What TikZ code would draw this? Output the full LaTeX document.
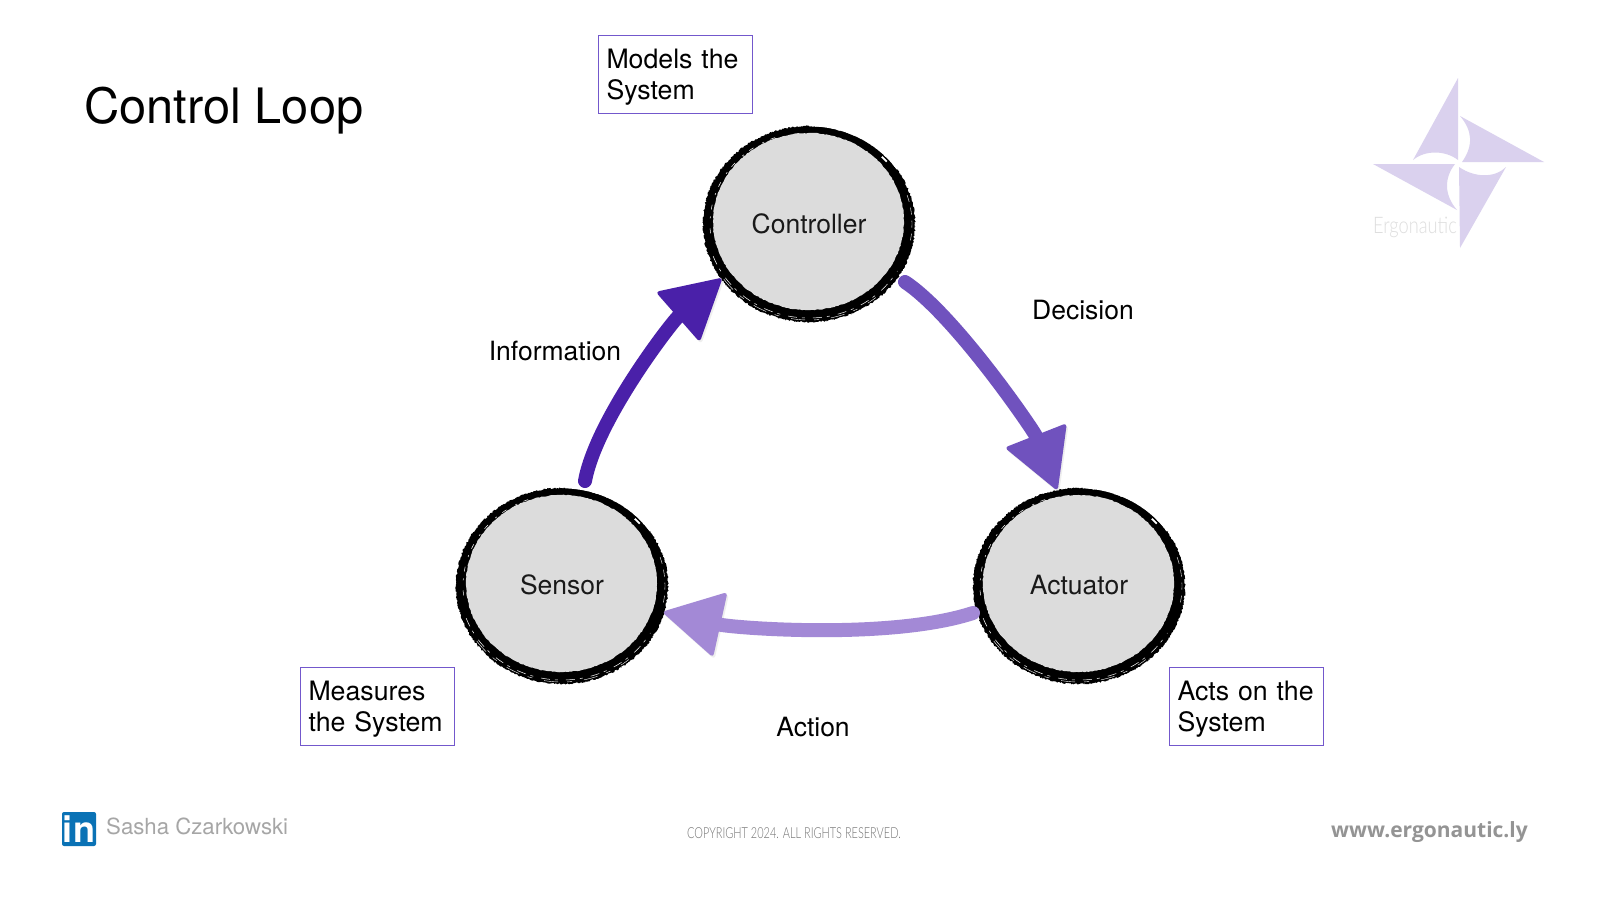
\documentclass[tikz,border=0pt]{standalone}
\usepackage{fontspec}
\setmainfont{TeX Gyre Heros}
\newfontfamily\thinfont[FakeStretch=0.72]{Lato Light}
\newfontfamily\logofont[FakeStretch=0.8]{Lato Light}
\newfontfamily\urlfont{Open Sans}
\usetikzlibrary{arrows.meta,decorations.pathmorphing,shapes.geometric}
\definecolor{infoC}{HTML}{4A20A9}
\definecolor{decC}{HTML}{7052BE}
\definecolor{actC}{HTML}{A389D6}
\definecolor{boxC}{HTML}{7358CC}
\definecolor{ballC}{HTML}{DCDCDC}
\definecolor{logoC}{HTML}{DAD1EE}
\definecolor{footC}{HTML}{A6A6A6}
\definecolor{linkC}{HTML}{0A72B5}
\newcommand{\firstline}{\rule{0pt}{25pt}}
\tikzset{
  x=1pt,y=-1pt,
  ballnode/.style={ellipse,minimum width=212pt,minimum height=196pt,inner sep=0pt,outer sep=0pt,font=\fontsize{26.5}{31}\selectfont,text=black!90},
  notebox/.style={draw=boxC,line width=1pt,anchor=west,inner sep=0pt,font=\fontsize{26.7}{31}\selectfont,align=left,text=black,text width=138pt,minimum height=78pt,inner xsep=8pt},
  flowlabel/.style={font=\fontsize{26.5}{31}\selectfont,text=black,inner sep=0pt},
  flow/.style={line width=14pt,line cap=round,color=#1,
    preaction={draw=black!35,opacity=.18,transform canvas={xshift=1.5pt,yshift=-2pt}},
    -{Triangle[length=60pt,width=66pt,line width=4pt,round]}},
  logoblade/.style={fill=logoC,draw=none},
}
\newcommand{\brushring}[2]{%
  \begin{scope}[shift={(#1,#2)},y=1pt]
    \fill[black,decorate,decoration={random steps,segment length=1.2pt,amplitude=.8pt}]
      (0,0) ellipse [x radius=106,y radius=98];
    % thin, broken upper-right part of the stroke
    \draw[white,line width=3.6pt] (34:107.5 and 99.5) arc [start angle=34,end angle=88,x radius=107.5,y radius=99.5];
    \draw[white,line width=1.8pt] (41:103 and 95) arc [start angle=41,end angle=45,x radius=103,y radius=95];
    % dry-brush streaks
    \draw[white,line width=.5pt,dash pattern=on 9pt off 5pt on 3pt off 8pt] (200:102 and 94) arc [start angle=200,end angle=330,x radius=102,y radius=94];
    \draw[white,line width=.4pt,dash pattern=on 14pt off 9pt on 5pt off 12pt] (215:104 and 96) arc [start angle=215,end angle=310,x radius=104,y radius=96];
    \draw[white,line width=.5pt,dash pattern=on 5pt off 7pt on 2pt off 10pt] (110:99 and 92) arc [start angle=110,end angle=190,x radius=99,y radius=92];
    \draw[white,line width=.4pt,dash pattern=on 7pt off 6pt] (350:103 and 95) arc [start angle=350,end angle=378,x radius=103,y radius=95];
    \fill[ballC,decorate,decoration={random steps,segment length=2pt,amplitude=.4pt}]
      (-.5,2.5) ellipse [x radius=95.5,y radius=88.5];
  \end{scope}%
}
\begin{document}
\begin{tikzpicture}
\pgfmathsetseed{2024}
\useasboundingbox (0,0) rectangle (1600,900);
\fill[white] (0,0) rectangle (1600,900);

% logo
\fill[logoblade] (1458,78) -- (1458,160) .. controls (1445,150) and (1425,150) .. (1413,160) -- cycle;
\fill[logoblade] (1544,162) -- (1462,162) .. controls (1474,145) and (1472,130) .. (1460,116) -- cycle;
\fill[logoblade] (1460,248) -- (1459,167) .. controls (1475,178) and (1495,178) .. (1506,167) -- cycle;
\fill[logoblade] (1373,164) -- (1455,164) .. controls (1444,178) and (1444,195) .. (1457,210) -- cycle;
\node[inner sep=0pt,text=black!13,font=\logofont\fontsize{22.8}{23}\selectfont] (logotext) at (1415,227) {Ergonautic};

% title
\node[anchor=west,inner sep=0pt,font=\fontsize{48.8}{50}\selectfont,text=black] (title) at (84,111) {Control Loop};

% balls
\brushring{809}{224}
\brushring{562}{586}
\brushring{1079}{586}
\node[ballnode] (controller) at (809,224) {Controller};
\node[ballnode] (sensor) at (562,585) {Sensor};
\node[ballnode] (actuator) at (1079,585) {Actuator};

% connectors
\coordinate (infoTail) at (585,481);
\coordinate (decTail) at (905,282);
\coordinate (actTail) at (973,613);
\draw[flow=infoC] (infoTail) .. controls (596,420) and (672,322) .. (controller.212);
\draw[flow=decC] (decTail) .. controls (955,315) and (1034,431) .. (actuator.103);
\draw[flow=actC] (actTail) .. controls (890,640) and (735,628) .. (sensor.345);

% flow labels
\node[flowlabel] (infolabel) at (555,351) {Information};
\node[flowlabel] (declabel) at (1083,310) {Decision};
\node[flowlabel] (actlabel) at (813,727) {Action};

% note boxes
\node[notebox] (modelsbox) at (598,74) {\firstline Models the\\System};
\node[notebox] (measuresbox) at (300,706) {\firstline Measures\\the System};
\node[notebox] (actsbox) at (1169,706) {\firstline Acts on the\\System};

% footer
\node[fill=linkC,rounded corners=2pt,minimum size=34pt,inner sep=0pt,text=white,font=\bfseries\fontsize{36}{36}\selectfont] (linkedin) at (79,829) {in};
\node[anchor=west,inner sep=0pt,text=footC,font=\fontsize{22.2}{24}\selectfont] (author) at (106,826) {Sasha Czarkowski};
\node[inner sep=0pt,text=black!55,font=\thinfont\fontsize{15.2}{16}\selectfont] (copyright) at (794,833) {COPYRIGHT 2024. ALL RIGHTS RESERVED.};
\node[anchor=east,inner sep=0pt,text=black!42,font=\urlfont\bfseries\fontsize{21}{24}\selectfont] (url) at (1528,832) {www.ergonautic.ly};
\end{tikzpicture}
\end{document}
